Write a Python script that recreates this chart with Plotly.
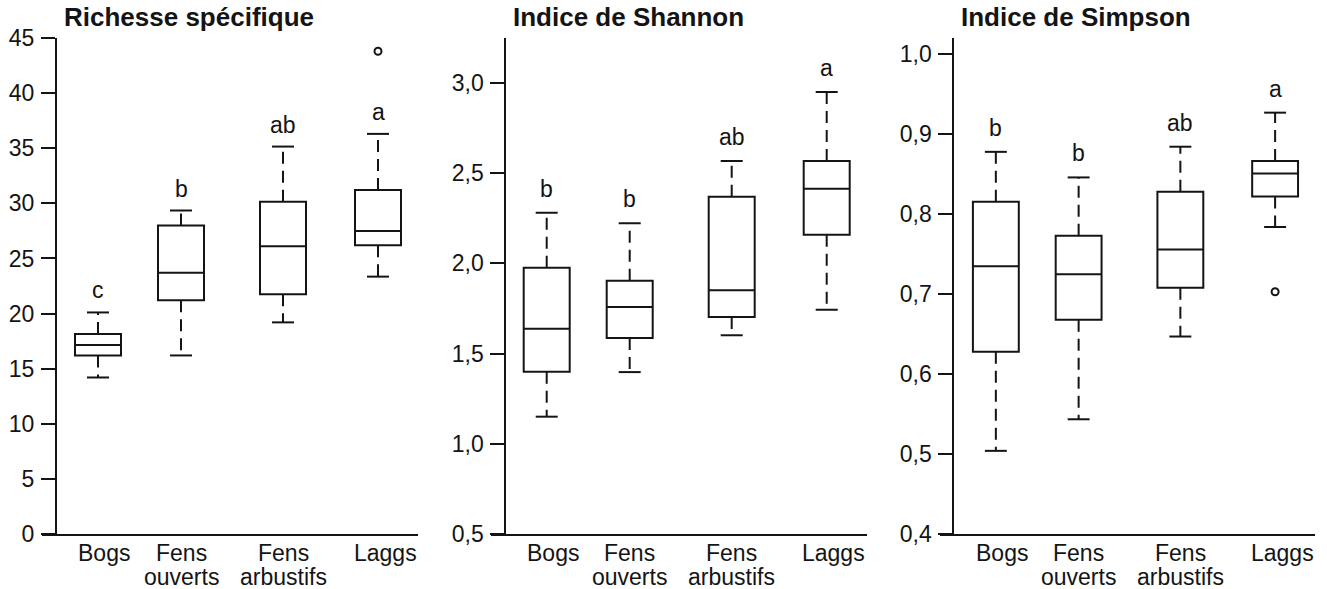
import plotly.graph_objects as go

W, H = 1327, 589

# ---------------- data ----------------
categories = ["Bogs", "Fens<br>ouverts", "Fens<br>arbustifs", "Laggs"]

rich_lower = [14.2, 16.2, 19.2, 23.35]
rich_q1 = [16.2, 21.2, 21.75, 26.2]
rich_med = [17.15, 23.7, 26.1, 27.5]
rich_q3 = [18.15, 28.0, 30.15, 31.2]
rich_upper = [20.1, 29.35, 35.15, 36.3]
rich_outliers = [[], [], [], [43.8]]
rich_letters = ["c", "b", "ab", "a"]

shan_lower = [1.15, 1.397, 1.601, 1.743]
shan_q1 = [1.399, 1.586, 1.702, 2.158]
shan_med = [1.637, 1.758, 1.850, 2.413]
shan_q3 = [1.975, 1.903, 2.369, 2.566]
shan_upper = [2.28, 2.221, 2.566, 2.949]
shan_outliers = [[], [], [], []]
shan_letters = ["b", "b", "ab", "a"]

simp_lower = [0.504, 0.5435, 0.647, 0.784]
simp_q1 = [0.628, 0.668, 0.708, 0.822]
simp_med = [0.735, 0.725, 0.756, 0.851]
simp_q3 = [0.8157, 0.773, 0.828, 0.8665]
simp_upper = [0.878, 0.846, 0.8844, 0.927]
simp_outliers = [[], [], [], [0.703]]
simp_letters = ["b", "b", "ab", "a"]

rich_ticks = [0, 5, 10, 15, 20, 25, 30, 35, 40, 45]
shan_ticks = [0.5, 1.0, 1.5, 2.0, 2.5, 3.0]
simp_ticks = [0.4, 0.5, 0.6, 0.7, 0.8, 0.9, 1.0]

# ---------------- layout helpers ----------------
box_pos = [56, 139, 241, 336]      # x positions inside each panel (px units)
label_pos = [62, 139, 241, 343]
box_w = 46
cap_w = 22
INK = "#141414"
FONT = "Liberation Sans, Arial, sans-serif"
LABEL_LINE_Y = [553, 577]          # pixel centres of x-label lines

panels = [
    dict(title="Richesse spécifique", lower=rich_lower, q1=rich_q1, med=rich_med,
         q3=rich_q3, upper=rich_upper, out=rich_outliers, letters=rich_letters,
         ticks=rich_ticks, fmt="d", yrange=[0, 45], dom=(42, 418), axis=56, lshift=7),
    dict(title="Indice de Shannon", lower=shan_lower, q1=shan_q1, med=shan_med,
         q3=shan_q3, upper=shan_upper, out=shan_outliers, letters=shan_letters,
         ticks=shan_ticks, fmt=".1f", yrange=[0.5, 0.5 + 496 / 180.5], dom=(490.7, 866.7),
         axis=505.3, lshift=9),
    dict(title="Indice de Simpson", lower=simp_lower, q1=simp_q1, med=simp_med,
         q3=simp_q3, upper=simp_upper, out=simp_outliers, letters=simp_letters,
         ticks=simp_ticks, fmt=".1f", yrange=[0.4, 0.4 + 496 / 799.5], dom=(940, 1315),
         axis=953.3, lshift=9),
]

fig = go.Figure()
annotations = []
layout_axes = {}

for i, p in enumerate(panels, start=1):
    xa = "x" if i == 1 else f"x{i}"
    ya = "y" if i == 1 else f"y{i}"

    fig.add_trace(go.Box(
        x=box_pos, q1=p["q1"], median=p["med"], q3=p["q3"],
        lowerfence=p["q1"], upperfence=p["q3"], width=box_w,
        fillcolor="rgba(255,255,255,0)", line=dict(color=INK, width=2),
        whiskerwidth=0, boxpoints=False, xaxis=xa, yaxis=ya,
        hoverinfo="skip", showlegend=False))

    wx, wy, cx, cy = [], [], [], []
    for j, xp in enumerate(box_pos):
        wx += [xp, xp, None, xp, xp, None]
        wy += [p["q3"][j], p["upper"][j], None, p["q1"][j], p["lower"][j], None]
        cx += [xp - cap_w / 2, xp + cap_w / 2, None, xp - cap_w / 2, xp + cap_w / 2, None]
        cy += [p["upper"][j], p["upper"][j], None, p["lower"][j], p["lower"][j], None]
    fig.add_trace(go.Scatter(x=wx, y=wy, mode="lines", xaxis=xa, yaxis=ya,
                             line=dict(color=INK, width=2, dash="12px,7px"),
                             hoverinfo="skip", showlegend=False))
    fig.add_trace(go.Scatter(x=cx, y=cy, mode="lines", xaxis=xa, yaxis=ya,
                             line=dict(color=INK, width=2),
                             hoverinfo="skip", showlegend=False))

    ox, oy = [], []
    for j, xp in enumerate(box_pos):
        for v in p["out"][j]:
            ox.append(xp)
            oy.append(v)
    if ox:
        fig.add_trace(go.Scatter(x=ox, y=oy, mode="markers", xaxis=xa, yaxis=ya,
                                 marker=dict(symbol="circle-open", size=7,
                                             color=INK, line=dict(width=2)),
                                 hoverinfo="skip", showlegend=False))

    for j, xp in enumerate(box_pos):
        annotations.append(dict(x=xp, y=p["upper"][j], xref=xa, yref=ya,
                                text=p["letters"][j], showarrow=False,
                                xanchor="center", yanchor="bottom", yshift=p["lshift"],
                                font=dict(family=FONT, size=23, color=INK)))

    # category labels (two-line labels drawn line by line for tight spacing)
    for j, lab in enumerate(categories):
        for k, line in enumerate(lab.split("<br>")):
            annotations.append(dict(x=label_pos[j], y=(H - LABEL_LINE_Y[k]) / H,
                                    xref=xa, yref="paper", text=line, showarrow=False,
                                    xanchor="center", yanchor="middle", borderpad=0,
                                    font=dict(family=FONT, size=23, color=INK)))

    annotations.append(dict(x=(p["axis"] + 6) / W, y=(H - 17) / H, xref="paper", yref="paper",
                            text="<b>" + p["title"] + "</b>", showarrow=False,
                            xanchor="left", yanchor="middle",
                            font=dict(family=FONT, size=26, color=INK)))

    xkey = "xaxis" if i == 1 else f"xaxis{i}"
    ykey = "yaxis" if i == 1 else f"yaxis{i}"
    layout_axes[xkey] = dict(
        domain=[p["dom"][0] / W, p["dom"][1] / W], range=[0, 376], anchor=ya,
        showline=True, linecolor=INK, linewidth=2, showgrid=False, zeroline=False,
        ticks="", showticklabels=False, automargin=False, fixedrange=True)
    layout_axes[ykey] = dict(
        domain=[55 / H, 551 / H], range=p["yrange"], anchor="free",
        position=p["axis"] / W, showline=True, linecolor=INK, linewidth=2,
        showgrid=False, zeroline=False, ticks="outside", ticklen=14, tickwidth=2,
        tickcolor=INK, tickvals=p["ticks"], tickformat=p["fmt"], ticklabelstandoff=2,
        automargin=False,
        tickfont=dict(family=FONT, size=23, color=INK), fixedrange=True)

fig.update_layout(
    template="none",
    width=W, height=H, margin=dict(l=0, r=0, t=0, b=0, pad=0, autoexpand=False),
    paper_bgcolor="white", plot_bgcolor="white",
    separators=", ", annotations=annotations, showlegend=False,
    **layout_axes)

fig.write_html("out.html", config={"displayModeBar": False},
               post_script="document.body.style.margin='0';document.body.style.overflow='hidden';")
